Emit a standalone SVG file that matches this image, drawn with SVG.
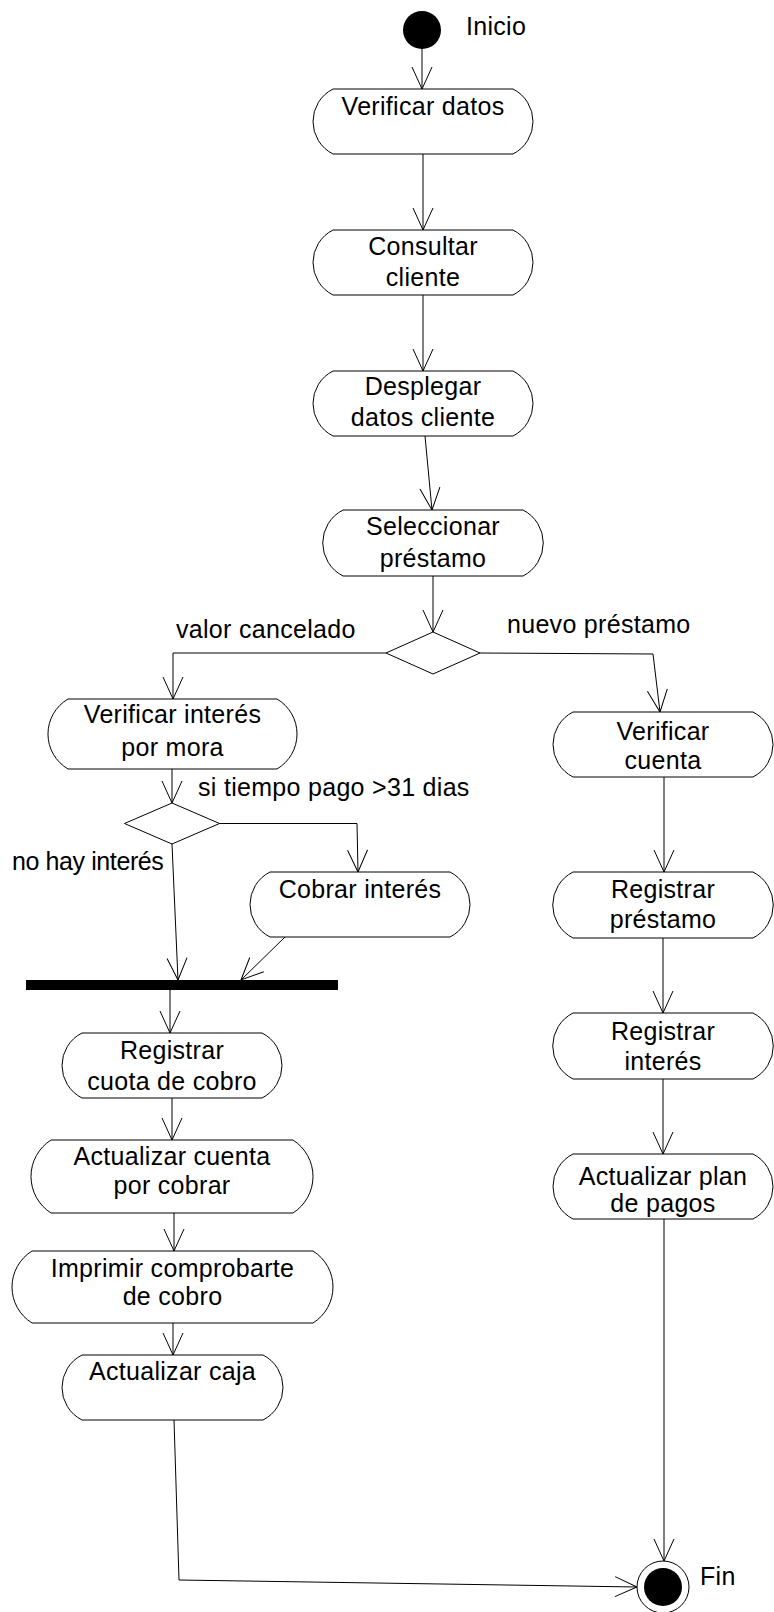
<svg xmlns="http://www.w3.org/2000/svg" width="774" height="1612" viewBox="0 0 774 1612">
  <style>
    .act { fill: #fff; stroke: #000; stroke-width: 1; }
    .dec { fill: #fff; stroke: #000; stroke-width: 1; }
    .flow { fill: none; stroke: #000; stroke-width: 1; marker-end: url(#open); }
    text { font-family: "Liberation Sans", Arial, sans-serif; font-size: 25px; letter-spacing: 0.3px; fill: #000; }
    .c { text-anchor: middle; }
    .tight { letter-spacing: -0.4px; }
  </style>
  <defs>
    <marker id="open" markerUnits="userSpaceOnUse" viewBox="-24 -12 26 24" refX="0" refY="0" markerWidth="26" markerHeight="24" orient="auto" overflow="visible">
      <path d="M-22,-10 L0,0 L-22,10" fill="none" stroke="#000" stroke-width="1"/>
    </marker>
  </defs>

  <rect width="774" height="1612" fill="#fff"/>

  <!-- transitions -->
  <g id="connectors">
    <path class="flow" d="M422,49 L422,89"/>
    <path class="flow" d="M423,154 L423,230"/>
    <path class="flow" d="M423,295 L423,371"/>
    <path class="flow" d="M425,436 L432,510"/>
    <path class="flow" d="M433,576 L433,632"/>
    <path class="flow" d="M386,653 L173,653 L173,699"/>
    <path class="flow" d="M480,653 L653,654 L660,712"/>
    <path class="flow" d="M172,769 L172,803"/>
    <path class="flow" d="M219.5,823.5 L357,823.5 L358,872"/>
    <path class="flow" d="M172,844 L178,980"/>
    <path class="flow" d="M285,937 L241,980"/>
    <path class="flow" d="M170,990 L170,1033"/>
    <path class="flow" d="M172,1098 L172,1140"/>
    <path class="flow" d="M174,1213 L174,1251"/>
    <path class="flow" d="M173,1323 L173,1355"/>
    <path class="flow" d="M174,1420 L179,1580 L637,1587"/>
    <path class="flow" d="M664,777 L664,872"/>
    <path class="flow" d="M663,938 L663,1013"/>
    <path class="flow" d="M663,1079 L663,1154"/>
    <path class="flow" d="M664,1219 L664,1561"/>
    <text x="176" y="638">valor cancelado</text>
    <text x="507" y="633">nuevo préstamo</text>
    <text x="198" y="796">si tiempo pago &gt;31 dias</text>
    <text class="tight" x="12" y="870">no hay interés</text>
  </g>

  <g id="inicio">
    <circle cx="422" cy="30" r="19" fill="#000"/>
    <text x="466" y="35">Inicio</text>
  </g>

  <g id="verificar-datos">
    <path class="act" d="M333,89 H513 A36.4,36.4 0 0 1 513,154 H333 A36.4,36.4 0 0 1 333,89 Z"/>
    <text class="c" x="423" y="115">Verificar datos</text>
  </g>

  <g id="consultar-cliente">
    <path class="act" d="M333,230 H513 A36.4,36.4 0 0 1 513,295 H333 A36.4,36.4 0 0 1 333,230 Z"/>
    <text class="c" x="423" y="255">Consultar</text>
    <text class="c" x="423" y="286">cliente</text>
  </g>

  <g id="desplegar-datos">
    <path class="act" d="M333,371 H513 A36.4,36.4 0 0 1 513,436 H333 A36.4,36.4 0 0 1 333,371 Z"/>
    <text class="c" x="423" y="395">Desplegar</text>
    <text class="c" x="423" y="426">datos cliente</text>
  </g>

  <g id="seleccionar-prestamo">
    <path class="act" d="M343,510 H523 A37,37 0 0 1 523,576 H343 A37,37 0 0 1 343,510 Z"/>
    <text class="c" x="433" y="535">Seleccionar</text>
    <text class="c" x="433" y="567">préstamo</text>
  </g>

  <g id="decision-tipo">
    <polygon class="dec" points="433,632 480,653 433,674 386,653"/>
  </g>

  <g id="verificar-interes">
    <path class="act" d="M68,699 H277 A40.6,40.6 0 0 1 277,769 H68 A40.6,40.6 0 0 1 68,699 Z"/>
    <text class="c" x="172.5" y="723">Verificar interés</text>
    <text class="c" x="172.5" y="756">por mora</text>
  </g>

  <g id="decision-mora">
    <polygon class="dec" points="172,803 219.5,823.5 172,844 124.5,823.5"/>
  </g>

  <g id="cobrar-interes">
    <path class="act" d="M270,872 H450 A36.4,36.4 0 0 1 450,937 H270 A36.4,36.4 0 0 1 270,872 Z"/>
    <text class="c" x="360" y="898">Cobrar interés</text>
  </g>

  <g id="union">
    <rect x="26" y="980" width="312" height="10" fill="#000"/>
  </g>

  <g id="registrar-cuota">
    <path class="act" d="M82,1033 H262 A36.4,36.4 0 0 1 262,1098 H82 A36.4,36.4 0 0 1 82,1033 Z"/>
    <text class="c" x="172" y="1059">Registrar</text>
    <text class="c" x="172" y="1090">cuota de cobro</text>
  </g>

  <g id="actualizar-cuenta">
    <path class="act" d="M51,1140 H293 A43.3,43.3 0 0 1 293,1213 H51 A43.3,43.3 0 0 1 51,1140 Z"/>
    <text class="c" x="172" y="1165">Actualizar cuenta</text>
    <text class="c" x="172" y="1194">por cobrar</text>
  </g>

  <g id="imprimir-comprobante">
    <path class="act" d="M32,1251 H313 A42.4,42.4 0 0 1 313,1323 H32 A42.4,42.4 0 0 1 32,1251 Z"/>
    <text class="c" x="172.5" y="1277">Imprimir comprobarte</text>
    <text class="c" x="172.5" y="1305">de cobro</text>
  </g>

  <g id="actualizar-caja">
    <path class="act" d="M82,1355 H263 A36.4,36.4 0 0 1 263,1420 H82 A36.4,36.4 0 0 1 82,1355 Z"/>
    <text class="c" x="172.5" y="1380">Actualizar caja</text>
  </g>

  <g id="verificar-cuenta">
    <path class="act" d="M573,712 H753 A36.4,36.4 0 0 1 753,777 H573 A36.4,36.4 0 0 1 573,712 Z"/>
    <text class="c" x="663" y="740">Verificar</text>
    <text class="c" x="663" y="769">cuenta</text>
  </g>

  <g id="registrar-prestamo">
    <path class="act" d="M573,872 H753 A37,37 0 0 1 753,938 H573 A37,37 0 0 1 573,872 Z"/>
    <text class="c" x="663" y="898">Registrar</text>
    <text class="c" x="663" y="928">préstamo</text>
  </g>

  <g id="registrar-interes">
    <path class="act" d="M573,1013 H753 A37,37 0 0 1 753,1079 H573 A37,37 0 0 1 573,1013 Z"/>
    <text class="c" x="663" y="1040">Registrar</text>
    <text class="c" x="663" y="1070">interés</text>
  </g>

  <g id="actualizar-plan">
    <path class="act" d="M573,1154 H753 A36.4,36.4 0 0 1 753,1219 H573 A36.4,36.4 0 0 1 573,1154 Z"/>
    <text class="c" x="663" y="1185">Actualizar plan</text>
    <text class="c" x="663" y="1212">de pagos</text>
  </g>

  <g id="fin">
    <circle cx="663" cy="1587" r="26" fill="#fff" stroke="#000" stroke-width="1"/>
    <circle cx="663" cy="1587" r="19" fill="#000"/>
    <text x="700" y="1585">Fin</text>
  </g>
</svg>
